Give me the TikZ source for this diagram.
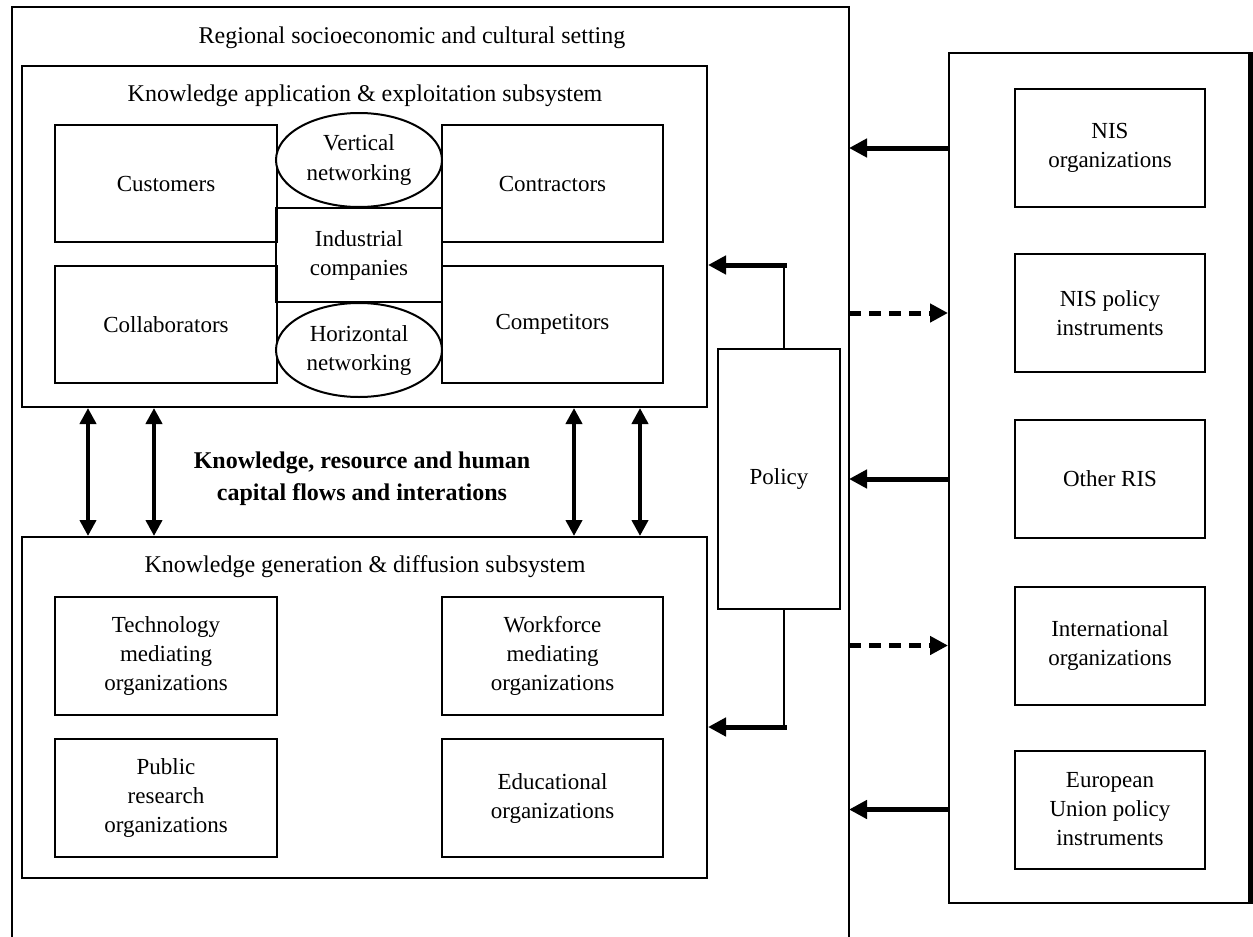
\documentclass[tikz,border=0pt]{standalone}
\usepackage{fontspec}
\setmainfont{Liberation Serif}
\usetikzlibrary{arrows.meta,shapes.geometric}
\begin{document}
\begin{tikzpicture}[x=0.5pt,y=-0.5pt,
  box/.style={draw,line width=1pt,rectangle,inner sep=0pt,align=center,font=\fontsize{11.5}{14.5}\selectfont},
  oval/.style={draw,line width=1pt,ellipse,fill=white,inner sep=0pt,align=center,font=\fontsize{11.5}{14.5}\selectfont},
  ttl/.style={font=\fontsize{12}{15}\selectfont,inner sep=0pt},
  bigarrow/.style={line width=2.5pt,-{Triangle[length=9pt,width=9pt]}},
  dasharrow/.style={line width=2.5pt,dash pattern=on 6pt off 4pt,-{Triangle[length=9pt,width=9pt]}},
  dblarrow/.style={line width=2.2pt,{Triangle[length=8pt,width=8pt]}-{Triangle[length=8pt,width=8pt]}},
  thinline/.style={line width=1pt}]
\useasboundingbox (0,0) rectangle (1253,937);
% outer regional frame (open at bottom)
\draw[line width=1pt] (12,937) -- (12,7) -- (849,7) -- (849,937);
\coordinate (frameR) at (849,7);
\node[ttl] (regional) at (412,38) {Regional socioeconomic and cultural setting};
% application subsystem
\node[box,minimum width=342.5pt,minimum height=170.5pt] (app) at (364.5,236.5) {};
\node[ttl] (apptitle) at (365,96) {Knowledge application \& exploitation subsystem};
\node[box,minimum width=111pt,minimum height=58.5pt] (cust) at (166,183.5) {Customers};
\node[box,minimum width=110.5pt,minimum height=58.5pt] (contr) at (552.5,183.5) {Contractors};
\node[box,minimum width=111pt,minimum height=58.5pt] (collab) at (166,324.5) {Collaborators};
\node[box,minimum width=110.5pt,minimum height=58.5pt] (compet) at (552.5,324.5) {Competitors};
\node[box,minimum width=83pt,minimum height=47pt] (indus) at (359,255) {Industrial\\companies};
\node[oval,minimum width=83pt,minimum height=47pt] (vert) at (359,160) {Vertical\\networking};
\node[oval,minimum width=83pt,minimum height=47pt] (horiz) at (359,350) {Horizontal\\networking};
% generation subsystem
\node[box,minimum width=342.5pt,minimum height=170.5pt] (gen) at (364.5,707.5) {};
\node[ttl] (gentitle) at (365,567) {Knowledge generation \& diffusion subsystem};
\node[box,minimum width=111pt,minimum height=59pt] (tech) at (166,656) {Technology\\mediating\\organizations};
\node[box,minimum width=110.5pt,minimum height=59pt] (work) at (552.5,656) {Workforce\\mediating\\organizations};
\node[box,minimum width=111pt,minimum height=59pt] (pub) at (166,798) {Public\\research\\organizations};
\node[box,minimum width=110.5pt,minimum height=59pt] (edu) at (552.5,798) {Educational\\organizations};
% flows
\node[font=\fontsize{12}{16}\selectfont\bfseries,align=center,inner sep=0pt] (flows) at (362,479) {Knowledge, resource and human\\capital flows and interations};
\foreach \x [count=\i] in {88,154,574,640} {
  \coordinate (d\i) at (\x,0);
  \draw[dblarrow] (app.south -| d\i) -- (gen.north -| d\i);
}
% policy
\node[box,minimum width=61pt,minimum height=130pt] (policy) at (779,479) {Policy};
\coordinate (pt) at (784,265);
\coordinate (pb) at (784,727);
\draw[thinline] (policy.north -| pt) -- (pt);
\draw[bigarrow] ([xshift=1.25pt]pt) -- (app.east |- pt);
\draw[thinline] (policy.south -| pb) -- (pb);
\draw[bigarrow] ([xshift=1.25pt]pb) -- (gen.east |- pb);
% right system
\node[box,minimum width=150pt,minimum height=425pt] (rbox) at (1099,478) {};
\draw[line width=2pt] ([xshift=0.5pt]rbox.north east) -- ([xshift=0.5pt]rbox.south east);
\node[box,minimum width=95pt,minimum height=59pt] (nisorg) at (1110,148) {NIS\\organizations};
\node[box,minimum width=95pt,minimum height=59pt] (nispol) at (1110,313) {NIS policy\\instruments};
\node[box,minimum width=95pt,minimum height=59pt] (ris) at (1110,479) {Other RIS};
\node[box,minimum width=95pt,minimum height=59pt] (intl) at (1110,645.5) {International\\organizations};
\node[box,minimum width=95pt,minimum height=59pt] (eu) at (1110,809.5) {European\\Union policy\\instruments};
\draw[bigarrow] (rbox.west |- nisorg) -- (frameR |- nisorg);
\draw[dasharrow] (frameR |- nispol) -- (rbox.west |- nispol);
\draw[bigarrow] (rbox.west |- ris) -- (frameR |- ris);
\draw[dasharrow] (frameR |- intl) -- (rbox.west |- intl);
\draw[bigarrow] (rbox.west |- eu) -- (frameR |- eu);
\end{tikzpicture}
\end{document}
